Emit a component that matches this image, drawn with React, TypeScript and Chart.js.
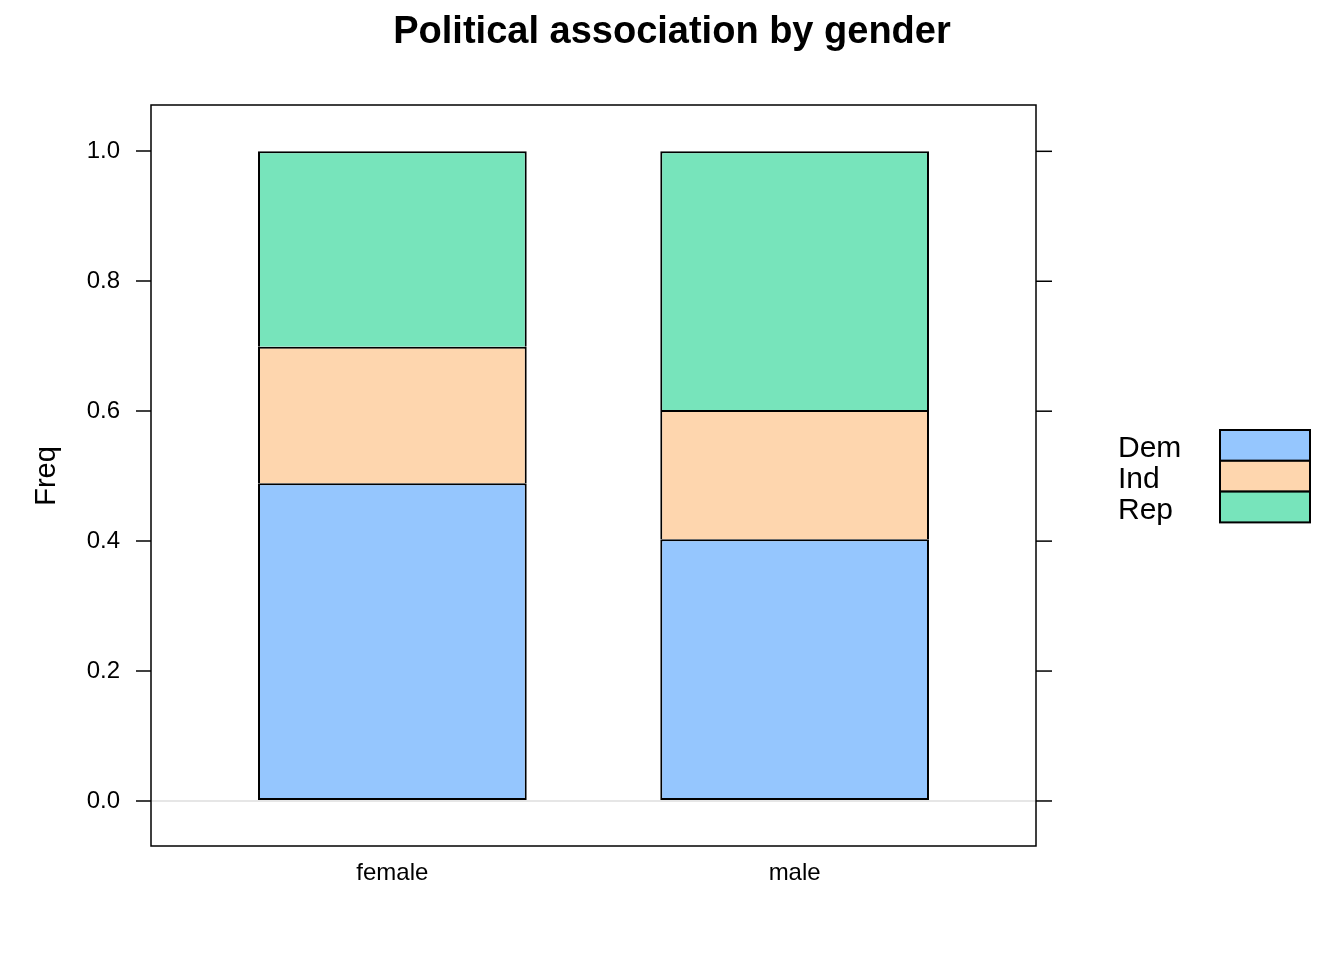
import React, { useEffect, useRef } from "react";
import { Chart, registerables } from "chart.js";

Chart.register(...registerables);

const categories = ["female", "male"];
const seriesNames = ["Dem", "Ind", "Rep"];
const demValues = [0.489, 0.403];
const indValues = [0.21, 0.199];
const repValues = [0.301, 0.398];
const seriesColors = ["#95C6FE", "#FED6AE", "#77E4BB"];
const yTickValues = [0, 0.2, 0.4, 0.6, 0.8, 1.0];
const titleText = "Political association by gender";
const yAxisLabel = "Freq";

const FONT = "'Liberation Sans', Arial, Helvetica, sans-serif";

const decorPlugin = {
  id: "latticeDecor",
  afterDraw(chart: any) {
    const { ctx, chartArea } = chart;
    const yScale = chart.scales.y;
    ctx.save();
    // panel box
    ctx.strokeStyle = "#000";
    ctx.lineWidth = 1.5;
    ctx.strokeRect(
      chartArea.left,
      chartArea.top,
      chartArea.right - chartArea.left,
      chartArea.bottom - chartArea.top
    );
    // right ticks
    yTickValues.forEach((v) => {
      const py = yScale.getPixelForValue(v);
      ctx.beginPath();
      ctx.moveTo(chartArea.right, py);
      ctx.lineTo(chartArea.right + 16, py);
      ctx.stroke();
    });
    // title
    ctx.fillStyle = "#000";
    ctx.font = `bold 38px ${FONT}`;
    ctx.textAlign = "center";
    ctx.textBaseline = "alphabetic";
    ctx.fillText(titleText, 672, 43);
    // y label
    ctx.save();
    ctx.translate(55, 476);
    ctx.rotate(-Math.PI / 2);
    ctx.font = `29px ${FONT}`;
    ctx.textAlign = "center";
    ctx.fillText(yAxisLabel, 0, 0);
    ctx.restore();
    // legend
    const rowH = 30.8;
    chart.data.datasets.forEach((ds: any, i: number) => {
      ctx.font = `30px ${FONT}`;
      ctx.textAlign = "left";
      ctx.fillStyle = "#000";
      ctx.fillText(ds.label, 1118, 457 + i * rowH);
      ctx.fillStyle = ds.backgroundColor;
      ctx.fillRect(1220, 430 + i * rowH, 90, rowH);
      ctx.strokeStyle = "#000";
      ctx.lineWidth = 2;
      ctx.strokeRect(1220, 430 + i * rowH, 90, rowH);
    });
    ctx.restore();
  },
};

export default function App() {
  const canvasRef = useRef<HTMLCanvasElement | null>(null);

  useEffect(() => {
    if (!canvasRef.current) return;
    const valueSets = [demValues, indValues, repValues];
    const chart = new Chart(canvasRef.current, {
      type: "bar",
      data: {
        datasets: seriesNames.map((name, si) => ({
          label: name,
          data: categories.map((_, ci) => ({ x: ci + 1, y: valueSets[si][ci] })),
          backgroundColor: seriesColors[si],
          borderColor: "#000",
          borderWidth: 2,
          borderSkipped: si === 0 ? false : "start",
          barPercentage: 0.668,
          categoryPercentage: 1,
        })),
      },
      options: {
        responsive: false,
        animation: false,
        layout: { padding: { top: 105, right: 308, bottom: 54, left: 0 } },
        plugins: {
          legend: { display: false },
          title: { display: false },
          tooltip: { enabled: false },
        },
        scales: {
          x: {
            type: "linear",
            min: 0.4,
            max: 2.6,
            offset: false,
            stacked: true,
            grid: { display: false, offset: false },
            border: { display: false },
            afterBuildTicks: (s: any) => {
              s.ticks = categories.map((_, i) => ({ value: i + 1 }));
            },
            afterFit: (s: any) => {
              s.height = 60;
            },
            ticks: {
              color: "#000",
              padding: 5,
              maxRotation: 0,
              font: { family: FONT, size: 24 },
              callback: (v: any) => categories[Math.round(Number(v)) - 1] ?? "",
            },
          },
          y: {
            type: "linear",
            min: -0.0693,
            max: 1.0713,
            stacked: true,
            border: { display: false },
            afterBuildTicks: (s: any) => {
              s.ticks = yTickValues.map((v) => ({ value: v }));
            },
            afterFit: (s: any) => {
              s.width = 151;
            },
            grid: {
              drawOnChartArea: true,
              color: (c: any) =>
                c.tick && c.tick.value === 0 ? "#e6e6e6" : "rgba(0,0,0,0)",
              lineWidth: 2,
              tickLength: 15,
              tickColor: "#000",
              tickWidth: 1.5,
            },
            ticks: {
              color: "#000",
              padding: 16,
              font: { family: FONT, size: 24 },
              callback: (v: any) => Number(v).toFixed(1),
            },
          },
        },
      },
      plugins: [decorPlugin],
    } as any);
    return () => chart.destroy();
  }, []);

  return (
    <div style={{ position: "fixed", left: 0, top: 0, width: 1344, height: 960, background: "#fff" }}>
      <canvas ref={canvasRef} width={1344} height={960} style={{ width: 1344, height: 960 }} />
    </div>
  );
}
